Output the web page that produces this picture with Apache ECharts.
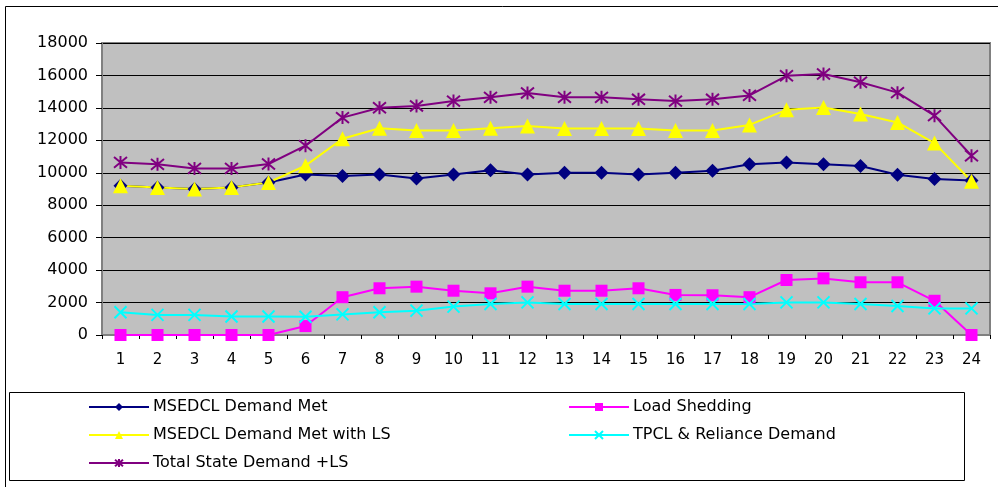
<!DOCTYPE html>
<html>
<head>
<meta charset="utf-8">
<script src="https://cdn.jsdelivr.net/npm/echarts@6/dist/echarts.min.js"></script>
<style>
  html, body { margin: 0; padding: 0; background: #ffffff; }
  #chart { width: 998px; height: 487px; }
</style>
</head>
<body>
<div id="chart"></div>
<script>
// Hourly demand profile (hours 1..24), MW
const hours = ['1','2','3','4','5','6','7','8','9','10','11','12','13','14','15','16','17','18','19','20','21','22','23','24'];
const yTicks = [0, 2000, 4000, 6000, 8000, 10000, 12000, 14000, 16000, 18000];

const msedclDemandMet = [9200, 9100, 9000, 9100, 9400, 9900, 9800, 9900, 9650, 9900, 10150, 9900,
                         10000, 10000, 9900, 10000, 10130, 10520, 10640, 10520, 10420, 9880, 9620, 9520];
const loadShedding = [0, 0, 0, 0, 0, 550, 2330, 2880, 2980, 2730, 2570, 2980,
                      2730, 2730, 2880, 2470, 2450, 2330, 3390, 3490, 3250, 3250, 2110, 0];
const msedclWithLS = [9200, 9100, 9000, 9100, 9400, 10440, 12100, 12740, 12600, 12600, 12740, 12880,
                      12730, 12730, 12730, 12600, 12600, 12950, 13880, 14030, 13620, 13100, 11830, 9480];
const tpclReliance = [1400, 1240, 1240, 1140, 1140, 1130, 1270, 1400, 1500, 1750, 1910, 2010,
                      1910, 1910, 1910, 1910, 1910, 1910, 2010, 2010, 1910, 1790, 1640, 1640];
const totalStateDemand = [10640, 10520, 10270, 10270, 10540, 11670, 13400, 14010, 14120, 14420, 14650, 14920,
                          14650, 14650, 14530, 14420, 14530, 14770, 15980, 16090, 15580, 14940, 13520, 11050];

const names = ['MSEDCL Demand Met', 'Load Shedding', 'MSEDCL Demand Met with LS',
               'TPCL & Reliance Demand', 'Total State Demand +LS'];

const FONT = 'DejaVu Sans';
const crossPath = 'path://M0 0L10 10M10 0L0 10';
const starPath = 'path://M0 0L10 10M10 0L0 10M5 -1L5 11';

function lineSeries(name, data, color, symbol, size, stroked) {
  return {
    name: name,
    type: 'line',
    data: data,
    symbol: symbol,
    symbolSize: size,
    showSymbol: true,
    animation: false,
    lineStyle: { color: color, width: 2 },
    itemStyle: stroked
      ? { color: 'rgba(0,0,0,0)', borderColor: color, borderWidth: 2 }
      : { color: color, borderWidth: 0 },
    z: 3
  };
}

const legendText = { color: '#000000', fontSize: 16, fontFamily: FONT, padding: [0, 0, 0, -1] };

const chart = echarts.init(document.getElementById('chart'), null, { renderer: 'canvas' });
chart.setOption({
  backgroundColor: '#ffffff',
  animation: false,
  textStyle: { fontFamily: FONT },
  grid: {
    left: 102, top: 43, right: 8, bottom: 152,
    show: true,
    backgroundColor: '#C0C0C0',
    borderColor: '#808080',
    borderWidth: 2
  },
  xAxis: {
    type: 'category',
    data: hours,
    boundaryGap: true,
    axisLine: { show: true, lineStyle: { color: '#808080', width: 1 } },
    axisTick: { show: true, length: 4, alignWithLabel: false, lineStyle: { color: '#000000' } },
    axisLabel: { color: '#000000', fontSize: 15, fontFamily: FONT, margin: 18, interval: 0 },
    splitLine: { show: false }
  },
  yAxis: {
    type: 'value',
    min: yTicks[0],
    max: yTicks[yTicks.length - 1],
    interval: yTicks[1] - yTicks[0],
    axisLine: { show: true, lineStyle: { color: '#808080', width: 2 } },
    axisTick: { show: true, length: 6, lineStyle: { color: '#000000' } },
    axisLabel: {
      color: '#000000', fontSize: 16, fontFamily: FONT, margin: 14,
      formatter: function (v) { return String(v); }
    },
    splitLine: { show: true, lineStyle: { color: '#000000', width: 1 } }
  },
  legend: [
    {
      orient: 'vertical',
      left: 83, top: 394,
      itemWidth: 60, itemHeight: 10, itemGap: 12,
      data: [names[0], names[2], names[4]],
      textStyle: legendText,
      selectedMode: false
    },
    {
      orient: 'vertical',
      left: 563, top: 394,
      itemWidth: 60, itemHeight: 10, itemGap: 12,
      data: [names[1], names[3]],
      textStyle: legendText,
      selectedMode: false
    }
  ],
  graphic: [
    {
      type: 'rect', silent: true, z: 100,
      shape: { x: 5.5, y: 6.5, width: 1010, height: 500 },
      style: { fill: 'none', stroke: '#000000', lineWidth: 1 }
    },
    {
      type: 'rect', silent: true, z: 100,
      shape: { x: 9.5, y: 392.5, width: 955, height: 88 },
      style: { fill: 'none', stroke: '#000000', lineWidth: 1 }
    }
  ],
  series: [
    lineSeries(names[0], msedclDemandMet, '#000080', 'diamond', 14, false),
    lineSeries(names[1], loadShedding, '#FF00FF', 'rect', 12, false),
    lineSeries(names[2], msedclWithLS, '#FFFF00', 'triangle', 15, false),
    lineSeries(names[3], tpclReliance, '#00FFFF', crossPath, 12, true),
    lineSeries(names[4], totalStateDemand, '#800080', starPath, 13, true)
  ]
});
</script>
</body>
</html>
